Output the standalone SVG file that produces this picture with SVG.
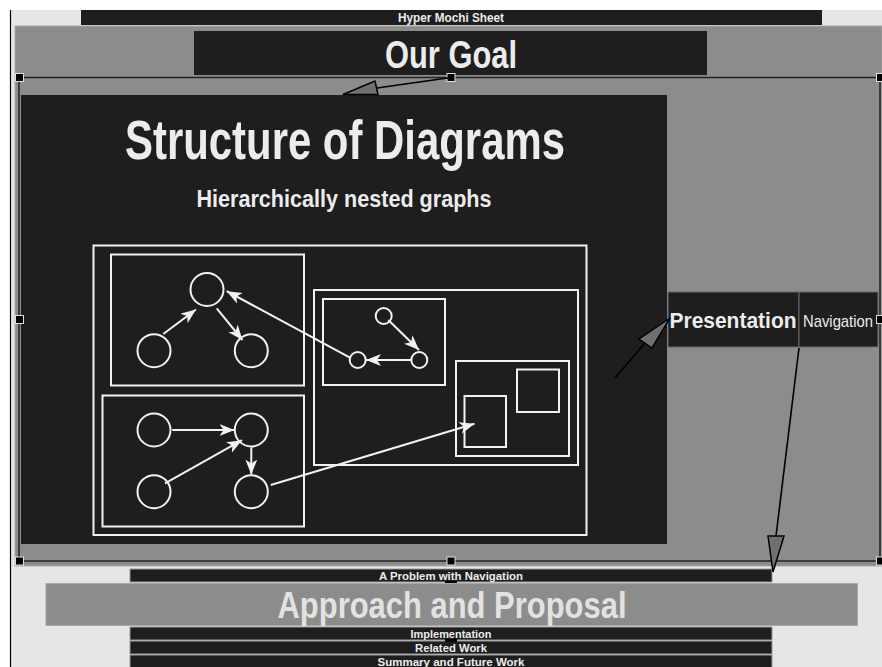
<svg xmlns="http://www.w3.org/2000/svg" width="882" height="667" viewBox="0 0 882 667">
<style>
.dark{fill:#1e1e1e}
.bar{fill:#1e1e1e;stroke:#9a9a9a;stroke-width:1}
.t{font-family:"Liberation Sans",Arial,sans-serif;fill:#ececec;text-anchor:middle}
.b{font-weight:bold}
.w{fill:none;stroke:#f2f2f2;stroke-width:2}
.e{fill:none;stroke:#f2f2f2;stroke-width:2}
.sel{fill:none;stroke:#222;stroke-width:1.5}
.h{fill:#000;stroke:#e0e0e0;stroke-width:1}
.tri{fill:#707070;stroke:#000;stroke-width:1.5;stroke-linejoin:miter}
.k{fill:none;stroke:#000;stroke-width:1.6}
</style>
<defs>
<marker id="wa" markerUnits="userSpaceOnUse" markerWidth="16" markerHeight="14" refX="15" refY="6" orient="auto">
<path d="M0,0 L15,6 L0,12 L4,6 z" fill="#f2f2f2"/>
</marker>
</defs>
<rect x="0" y="0" width="882" height="667" fill="#ffffff"/>
<rect x="11" y="10" width="871" height="657" fill="#e6e6e6"/>
<line x1="10.5" y1="10" x2="10.5" y2="667" stroke="#000" stroke-width="1.2"/>

<g id="hyper-mochi-sheet">
<rect class="dark" x="81" y="10" width="741" height="15"/>
<text class="t b" x="451" y="22" font-size="12" textLength="106" lengthAdjust="spacingAndGlyphs">Hyper Mochi Sheet</text>
</g>

<g id="goal-area">
<rect x="15" y="26" width="867" height="540" fill="#8c8c8c" stroke="#a8a8a8" stroke-width="1"/>
</g>

<g id="our-goal">
<rect class="dark" x="194" y="31" width="513" height="44"/>
<text class="t b" x="451" y="68" font-size="38" textLength="132" lengthAdjust="spacingAndGlyphs">Our Goal</text>
</g>

<g id="structure-of-diagrams">
<rect class="dark" x="21" y="95" width="646" height="449"/>
<text class="t b" x="345" y="159" font-size="55" textLength="440" lengthAdjust="spacingAndGlyphs">Structure of Diagrams</text>
<text class="t b" x="344" y="207" font-size="24" textLength="295" lengthAdjust="spacingAndGlyphs">Hierarchically nested graphs</text>
<g id="nested-graph">
<rect class="w" x="93.5" y="245.5" width="493" height="289.5"/>
<rect class="w" x="111" y="254.5" width="193" height="131"/>
<rect class="w" x="102.5" y="395.5" width="201.5" height="131"/>
<rect class="w" x="314" y="290" width="264" height="175"/>
<rect class="w" x="323" y="299" width="122" height="86"/>
<rect class="w" x="456" y="361" width="113" height="95"/>
<rect class="w" x="464.5" y="396" width="41.5" height="51"/>
<rect class="w" x="517" y="369.5" width="42" height="42.5"/>
<circle class="w" cx="207" cy="289.5" r="16.5"/>
<circle class="w" cx="154" cy="350.7" r="16.5"/>
<circle class="w" cx="251.3" cy="350.7" r="16.5"/>
<circle class="w" cx="154" cy="430" r="16.5"/>
<circle class="w" cx="251.3" cy="430" r="16.5"/>
<circle class="w" cx="154" cy="491.7" r="16.5"/>
<circle class="w" cx="251.3" cy="491.7" r="16.5"/>
<circle class="w" cx="383.7" cy="316" r="8"/>
<circle class="w" cx="419.3" cy="360" r="8"/>
<circle class="w" cx="357.7" cy="360" r="8"/>
</g>
</g>

<g id="presentation">
<rect class="dark" x="668" y="292" width="131" height="55" stroke="#6a6a6a" stroke-width="1"/>
<text class="t b" x="733" y="328" font-size="22" textLength="127" lengthAdjust="spacingAndGlyphs">Presentation</text>
</g>

<g id="navigation">
<rect class="dark" x="799" y="292" width="79" height="55" stroke="#6a6a6a" stroke-width="1"/>
<text class="t" x="838" y="327" font-size="17" textLength="70" lengthAdjust="spacingAndGlyphs">Navigation</text>
</g>

<g id="selection">
<rect class="sel" x="19" y="77.5" width="861" height="483.5"/>
<rect class="h" x="15.5" y="73.5" width="8" height="8"/>
<rect class="h" x="447" y="73.5" width="8" height="8"/>
<rect class="h" x="876.5" y="73.5" width="8" height="8"/>
<rect class="h" x="15.5" y="315.5" width="8" height="8"/>
<rect class="h" x="876.5" y="315.5" width="8" height="8"/>
<rect class="h" x="15.5" y="557" width="8" height="8"/>
<rect class="h" x="447" y="557" width="8" height="8"/>
<rect class="h" x="876.5" y="557" width="8" height="8"/>
</g>

<g id="problem-with-navigation">
<rect class="bar" x="130" y="569" width="642" height="13"/>
<rect x="445" y="581" width="12" height="3" fill="#000"/>
<text class="t b" x="451" y="580" font-size="11" textLength="144" lengthAdjust="spacingAndGlyphs">A Problem with Navigation</text>
</g>

<g id="approach-and-proposal">
<rect x="46" y="583.5" width="811.5" height="42" fill="#8c8c8c" stroke="#a8a8a8" stroke-width="1"/>
<text class="t b" x="452" y="618" font-size="36" textLength="349" lengthAdjust="spacingAndGlyphs" style="fill:#e2e2e2">Approach and Proposal</text>
</g>

<g id="implementation">
<rect class="bar" x="130" y="627" width="642" height="13"/>
<text class="t b" x="451" y="638" font-size="11" textLength="81" lengthAdjust="spacingAndGlyphs">Implementation</text>
</g>
<g id="related-work">
<rect class="bar" x="130" y="641" width="642" height="13"/>
<rect x="445" y="639" width="12" height="3" fill="#000"/>
<text class="t b" x="451" y="652" font-size="11" textLength="72" lengthAdjust="spacingAndGlyphs">Related Work</text>
</g>
<g id="summary-and-future-work">
<rect class="bar" x="130" y="655" width="642" height="14"/>
<text class="t b" x="451" y="666" font-size="11" textLength="147" lengthAdjust="spacingAndGlyphs">Summary and Future Work</text>
</g>

<g id="connectors">
<line class="e" x1="163.3" y1="334" x2="196" y2="309.5" marker-end="url(#wa)"/>
<line class="e" x1="216.7" y1="308.3" x2="242.5" y2="340" marker-end="url(#wa)"/>
<line class="e" x1="172.3" y1="430" x2="234.5" y2="430" marker-end="url(#wa)"/>
<line class="e" x1="165" y1="483.3" x2="242" y2="440.2" marker-end="url(#wa)"/>
<line class="e" x1="251.3" y1="447.3" x2="251.3" y2="474.5" marker-end="url(#wa)"/>
<line class="e" x1="388.3" y1="320" x2="419" y2="350" marker-end="url(#wa)"/>
<line class="e" x1="411" y1="360" x2="366" y2="360" marker-end="url(#wa)"/>
<line class="e" x1="350" y1="357.7" x2="226.7" y2="291.2" marker-end="url(#wa)"/>
<line class="e" x1="270.7" y1="485" x2="474.5" y2="423.7" marker-end="url(#wa)"/>
<line class="k" x1="451" y1="77.5" x2="377" y2="88"/>
<polygon class="tri" points="343,94.5 375,81 378,94.5"/>
<line class="k" x1="615" y1="378" x2="645" y2="343"/>
<polygon class="tri" points="670,318 639,339 652,348"/>
<line class="k" x1="799" y1="348" x2="776" y2="536"/>
<polygon class="tri" points="768,536 784,536 773,572"/>
</g>
</svg>
